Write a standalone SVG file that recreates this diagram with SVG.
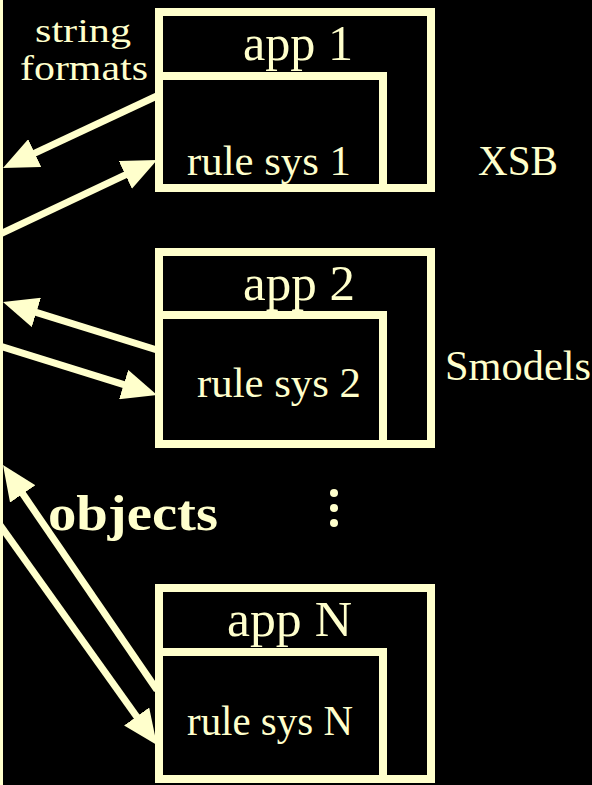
<svg xmlns="http://www.w3.org/2000/svg" width="592" height="785" viewBox="0 0 592 785">
<style>
.bx{fill:none;stroke:#FFFFCC;stroke-width:8}
text{fill:#FFFFCC;font-family:'Liberation Serif','Times New Roman',serif}
.c{stroke:#FFFFCC;stroke-width:7;fill:none;marker-end:url(#ah)}
.dot{fill:#FFFFCC}
</style>
<defs>
<marker id="ah" viewBox="0 0 5 4.4" refX="1" refY="2.2" markerWidth="5" markerHeight="4.4" markerUnits="strokeWidth" orient="auto">
<path d="M0,0 L5,2.2 L0,4.4 z" fill="#FFFFCC"/>
</marker>
</defs>
<rect x="0" y="0" width="592" height="785" fill="#000"/>
<rect x="0" y="0" width="3" height="785" fill="#FFFFCC"/>
<g id="box1">
<rect class="bx" x="159" y="12" width="272" height="176"/>
<rect class="bx" x="159" y="76" width="224" height="112"/>
<text x="243" y="60" font-size="50" textLength="110" lengthAdjust="spacingAndGlyphs">app 1</text>
<text x="187" y="175" font-size="42" textLength="164" lengthAdjust="spacingAndGlyphs">rule sys 1</text>
</g>
<g id="box2">
<rect class="bx" x="159" y="252" width="272" height="192"/>
<rect class="bx" x="159" y="315" width="224" height="129"/>
<text x="243" y="300" font-size="50" textLength="112" lengthAdjust="spacingAndGlyphs">app 2</text>
<text x="197" y="397" font-size="42" textLength="164" lengthAdjust="spacingAndGlyphs">rule sys 2</text>
</g>
<g id="boxN">
<rect class="bx" x="159" y="588" width="272" height="191"/>
<rect class="bx" x="159" y="652" width="224" height="127"/>
<text x="227" y="636" font-size="50" textLength="125" lengthAdjust="spacingAndGlyphs">app N</text>
<text x="187" y="735" font-size="42" textLength="166" lengthAdjust="spacingAndGlyphs">rule sys N</text>
</g>
<g id="labels">
<text x="35" y="42" font-size="34" textLength="96" lengthAdjust="spacingAndGlyphs">string</text>
<text x="20" y="80" font-size="36" textLength="128" lengthAdjust="spacingAndGlyphs">formats</text>
<text x="478" y="175" font-size="42" textLength="80" lengthAdjust="spacingAndGlyphs">XSB</text>
<text x="445" y="380" font-size="42" textLength="146" lengthAdjust="spacingAndGlyphs">Smodels</text>
<text x="48" y="530" font-size="50" font-weight="bold" textLength="170" lengthAdjust="spacingAndGlyphs">objects</text>
<circle class="dot" cx="334" cy="493" r="4"/>
<circle class="dot" cx="334" cy="508" r="4"/>
<circle class="dot" cx="334" cy="523" r="4"/>
</g>
<g id="connectors">
<line class="c" x1="159" y1="95" x2="28.4" y2="156.1"/>
<line class="c" x1="0" y1="234" x2="131.7" y2="171.9"/>
<line class="c" x1="157" y1="350" x2="29.7" y2="310.3"/>
<line class="c" x1="0" y1="346" x2="130.3" y2="386.7"/>
<line class="c" x1="157" y1="690" x2="18.8" y2="488.1"/>
<line class="c" x1="0" y1="525" x2="140.7" y2="722.2"/>
</g>
</svg>
